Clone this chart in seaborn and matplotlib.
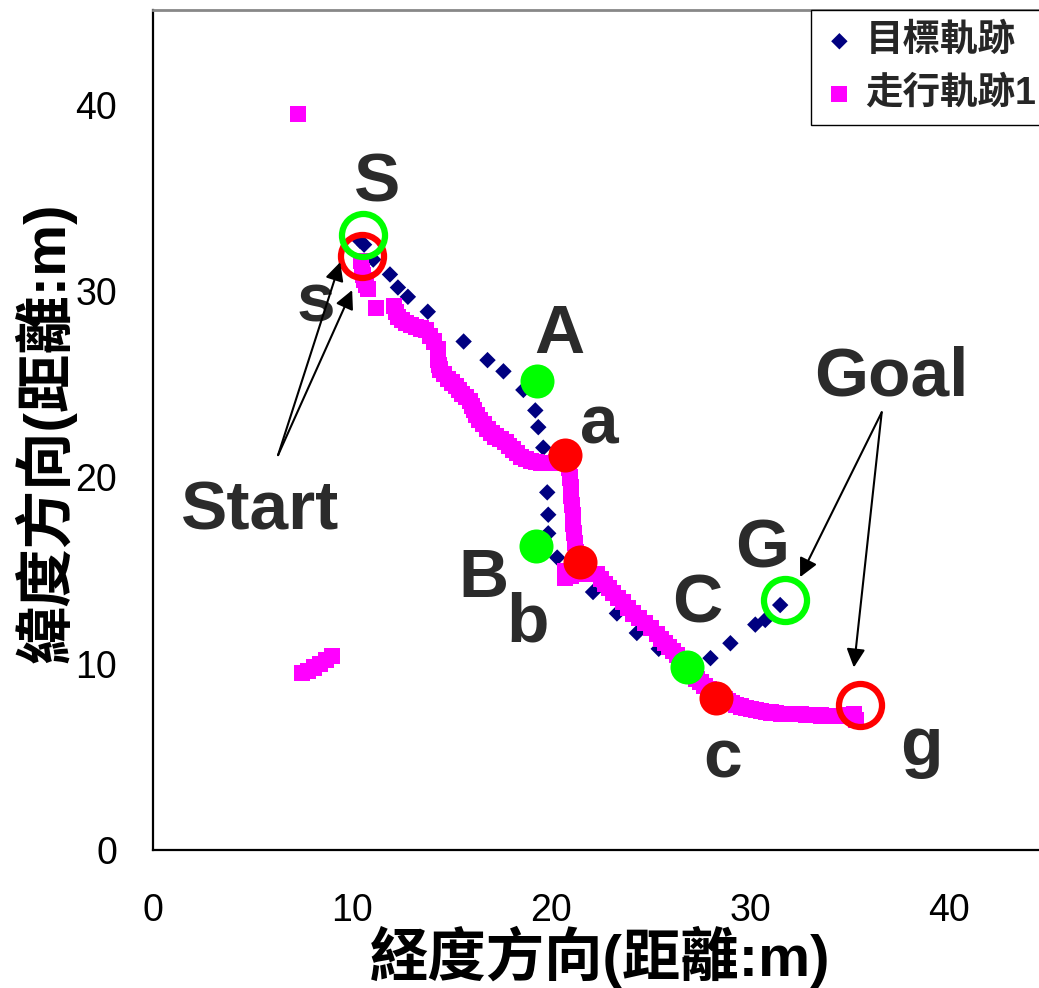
import matplotlib
matplotlib.use("Agg")
import matplotlib.pyplot as plt
import seaborn as sns
import pandas as pd

# ---------------- data ----------------
target_x = [10.4, 10.6, 11.06, 11.9, 12.3, 12.8, 13.8, 15.6, 16.8, 17.6, 18.6,
            19.2, 19.35, 19.6, 19.8, 19.85, 19.85, 20.3, 21.0, 22.1, 23.3, 24.3,
            25.4, 28.0, 29.0, 30.25, 30.75, 31.5]
target_y = [32.7, 32.5, 31.7, 30.9, 30.2, 29.7, 28.9, 27.3, 26.3, 25.7, 24.7,
            23.6, 22.7, 21.6, 19.2, 18.0, 17.0, 15.7, 15.0, 13.85, 12.7, 11.65,
            10.8, 10.3, 11.1, 12.1, 12.35, 13.15]

run_x = [7.3,
         7.5, 7.8, 8.1, 8.4, 8.7, 9.0,
         10.45, 10.5, 10.55, 10.6, 10.7, 10.8, 11.2, 12.1, 12.2, 12.3, 12.5,
         12.7, 12.95, 13.2, 13.45, 13.7, 13.9, 14.1, 14.3, 14.3, 14.3, 14.35,
         14.4, 14.6, 14.8, 15.0, 15.2, 15.35, 15.5, 15.7, 15.9, 16.0, 16.1,
         16.25, 16.4, 16.6, 16.8, 17.0, 17.2, 17.45, 17.7, 17.9, 18.1, 18.3,
         18.5, 18.75, 19.0, 19.25, 19.5, 19.75, 20.0, 20.25, 20.5, 20.8,
         20.9, 20.95, 21.0, 21.0, 21.05, 21.1, 21.1, 21.15, 21.2, 21.25, 21.3,
         20.7, 20.7, 21.0, 21.5, 21.9,
         22.3, 22.5, 22.7, 22.9, 23.1, 23.35, 23.6, 23.85, 24.1, 24.4, 24.7,
         25.0, 25.3, 25.5, 25.7, 25.9, 26.1, 26.3, 26.5, 26.7, 26.9, 27.1,
         27.3, 27.5, 27.7, 27.9, 28.1, 28.3, 28.5, 28.7, 28.9, 29.1, 29.3,
         29.55, 29.8, 30.05, 30.3, 30.55, 30.8, 31.05, 31.3, 31.55, 31.8,
         32.05, 32.3, 32.55, 32.8, 33.05, 33.3, 33.55, 33.8, 34.05, 34.3,
         34.55, 34.8, 35.0, 35.2, 35.3]
run_y = [39.5,
         9.5, 9.6, 9.8, 10.0, 10.2, 10.4,
         31.6, 31.1, 30.85, 30.6, 30.35, 30.1, 29.1, 29.2, 28.9, 28.6, 28.45,
         28.3, 28.2, 28.1, 28.0, 27.9, 27.6, 27.3, 26.9, 26.6, 26.3, 26.05,
         25.8, 25.55, 25.3, 25.1, 24.9, 24.7, 24.5, 24.3, 24.1, 23.85, 23.6,
         23.35, 23.1, 22.85, 22.6, 22.4, 22.2, 22.05, 21.9, 21.7, 21.5, 21.3,
         21.1, 21.0, 20.9, 20.85, 20.8, 20.8, 20.8, 20.85, 20.9, 21.0,
         20.5, 20.0, 19.5, 19.0, 18.5, 18.0, 17.5, 17.0, 16.5, 16.0, 15.5,
         15.0, 14.6, 14.7, 14.8, 14.8,
         14.8, 14.55, 14.3, 14.05, 13.8, 13.55, 13.3, 13.0, 12.7, 12.45, 12.2,
         11.9, 11.6, 11.35, 11.1, 10.9, 10.7, 10.45, 10.2, 9.95, 9.7, 9.45,
         9.2, 9.0, 8.8, 8.65, 8.5, 8.35, 8.2, 8.1, 8.0, 7.9, 7.8,
         7.7, 7.6, 7.55, 7.5, 7.45, 7.4, 7.38, 7.35, 7.32, 7.3,
         7.3, 7.3, 7.28, 7.25, 7.25, 7.25, 7.22, 7.2, 7.2, 7.2,
         7.2, 7.2, 7.25, 7.3, 7.0]

# waypoints
green_fill_x = [19.3, 19.25, 26.8]
green_fill_y = [25.2, 16.3, 9.8]
red_fill_x = [20.7, 21.45, 28.3]
red_fill_y = [21.2, 15.45, 8.15]
green_open_x = [10.55, 31.75]
green_open_y = [33.0, 13.4]
red_open_x = [10.5, 35.5]
red_open_y = [31.9, 7.8]

label_text = ["S", "s", "Start", "A", "a", "B", "b", "C", "c", "G", "g", "Goal"]
label_x = [11.26, 8.19, 5.38, 20.4, 22.4, 16.6, 18.8, 27.35, 28.6, 30.6, 38.6, 37.1]
label_y = [34.8, 28.35, 17.18, 26.7, 21.85, 13.58, 11.17, 12.19, 3.87, 15.14, 4.56, 24.4]

arrow_tail = [(6.28, 21.2), (6.28, 21.2), (36.6, 23.5), (36.6, 23.5)]
arrow_head = [(9.4, 31.56), (10.0, 30.06), (32.5, 14.65), (35.2, 9.8)]

x_ticks = [0, 10, 20, 30, 40]
y_ticks = [0, 10, 20, 30, 40]

series_names = ["目標軌跡", "走行軌跡1"]
x_label = "経度方向(距離:m)"
y_label = "緯度方向(距離:m)"

# ---------------- style ----------------
sns.set_theme(style="white")
plt.rcParams["font.family"] = ["Liberation Sans", "Noto Sans CJK TC", "DejaVu Sans"]

fig = plt.figure(figsize=(10.39, 9.88), dpi=100)
ax = fig.add_axes([0.1473, 0.1397, 0.8527, 0.8502])

df_t = pd.DataFrame({"x": target_x, "y": target_y})
df_r = pd.DataFrame({"x": run_x, "y": run_y})

sns.scatterplot(data=df_t, x="x", y="y", ax=ax, marker="D", s=70,
                color="#000080", edgecolor="none", linewidth=0,
                label=series_names[0], zorder=3)
sns.scatterplot(data=df_r, x="x", y="y", ax=ax, marker="s", s=135,
                color="#FF00FF", edgecolor="none", linewidth=0,
                label=series_names[1], zorder=4)

ax.plot(green_fill_x, green_fill_y, "o", ms=24.5, color="#00FF00", mec="none", zorder=6)
ax.plot(red_fill_x, red_fill_y, "o", ms=24.5, color="#FF0000", mec="none", zorder=6)
ax.plot(red_open_x, red_open_y, "o", ms=31, mfc="none", mec="#FF0000", mew=4.5, zorder=6)
ax.plot(green_open_x, green_open_y, "o", ms=31, mfc="none", mec="#00FF00", mew=4.5, zorder=7)

for t, x, y in zip(label_text, label_x, label_y):
    ax.text(x, y, t, ha="center", va="baseline", fontsize=50, fontweight="bold",
            color="#2b2b2b", zorder=8)

for (tx, ty), (hx, hy) in zip(arrow_tail, arrow_head):
    ax.annotate("", xy=(hx, hy), xytext=(tx, ty),
                arrowprops=dict(arrowstyle="-|>", color="black", lw=1.5,
                                mutation_scale=28, shrinkA=0, shrinkB=0),
                zorder=9)

ax.set_xlim(0, 44.5)
ax.set_ylim(0, 45.1)
ax.set_xticks(x_ticks)
ax.set_yticks(y_ticks)
ax.tick_params(axis="both", length=0, labelsize=27, colors="black")
ax.tick_params(axis="x", pad=31)
ax.tick_params(axis="y", pad=26)

for side in ["left", "bottom"]:
    ax.spines[side].set_color("black")
    ax.spines[side].set_linewidth(1.6)
ax.spines["top"].set_color("#888888")
ax.spines["top"].set_linewidth(2)
ax.spines["right"].set_visible(False)

ax.set_xlabel(x_label, fontsize=42, fontweight="bold", color="black")
ax.set_ylabel(y_label, fontsize=42, fontweight="bold", color="black")
ax.xaxis.set_label_coords(0.5045, -0.127)
ax.xaxis.label.set_va("center")
ax.yaxis.set_label_coords(-0.1219, 0.497)
ax.yaxis.label.set_va("center")

leg = ax.legend(loc="upper right", bbox_to_anchor=(1.012, 1.0), borderaxespad=0,
                frameon=True, fancybox=False, framealpha=1, edgecolor="black",
                prop={"size": 27, "weight": "bold"}, handletextpad=0.3,
                handlelength=0.8, borderpad=0.35, labelspacing=0.45,
                markerscale=1.0)
leg.get_frame().set_linewidth(1.0)

fig.savefig("out.png", dpi=100)
